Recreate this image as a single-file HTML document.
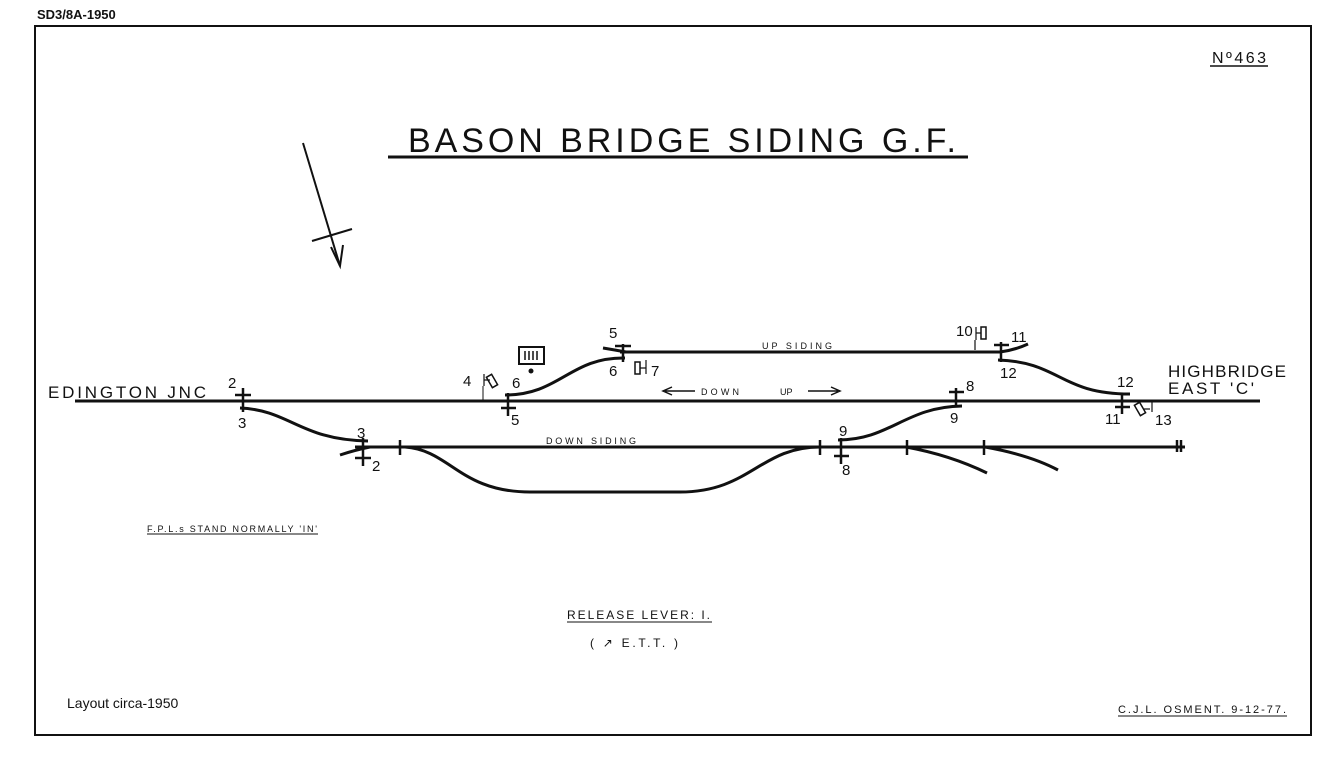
<!DOCTYPE html>
<html><head><style>
body{margin:0;background:#fff;}
svg{display:block;}
text{font-family:"Liberation Sans",sans-serif;fill:#111;}
</style></head><body>
<svg width="1334" height="760" viewBox="0 0 1334 760" xmlns="http://www.w3.org/2000/svg">
<rect width="1334" height="760" fill="#fff"/>
<g stroke="#111" fill="none">
<path d="M35 26 H1311 V735 H35 Z" stroke-width="2"/>
<line x1="388" y1="157" x2="968" y2="157" stroke-width="3"/>
<line x1="1210" y1="66" x2="1268" y2="66" stroke-width="1.5"/>
<line x1="303" y1="143" x2="340" y2="266" stroke-width="2"/>
<line x1="312" y1="241" x2="352" y2="229" stroke-width="2"/>
<path d="M331 247 L340 266 L343 245" stroke-width="2"/>
<line x1="75" y1="401" x2="1260" y2="401" stroke-width="3"/>
<line x1="620" y1="352" x2="1000" y2="352" stroke-width="3"/>
<path d="M603 348 Q615 350 626 352" stroke-width="3"/>
<path d="M1000 352 Q1015 350 1028 344" stroke-width="3"/>
<path d="M505 395 C560 395 570 357 625 358" stroke-width="3"/>
<path d="M998 360 C1060 362 1060 394 1130 394" stroke-width="3"/>
<line x1="355" y1="447" x2="1185" y2="447" stroke-width="3"/>
<path d="M340 455 Q355 450 370 447" stroke-width="3"/>
<path d="M240 408 C290 410 300 440 368 441" stroke-width="3"/>
<path d="M405 447 C450 450 460 492 530 492 H680 C750 492 760 447 820 447" stroke-width="3"/>
<path d="M838 440 C890 440 905 407 962 406" stroke-width="3"/>
<path d="M906 447 Q950 455 987 473" stroke-width="3"/>
<path d="M985 447 Q1030 455 1058 470" stroke-width="3"/>
<g stroke-width="2.5">
<line x1="243" y1="388" x2="243" y2="412"/><line x1="235" y1="395" x2="251" y2="395"/>
<line x1="363" y1="438" x2="363" y2="466"/><line x1="355" y1="458" x2="371" y2="458"/>
<line x1="400" y1="440" x2="400" y2="455"/>
<line x1="508" y1="393" x2="508" y2="416"/><line x1="501" y1="408" x2="516" y2="408"/>
<line x1="623" y1="344" x2="623" y2="362"/><line x1="615" y1="346" x2="631" y2="346"/>
<line x1="820" y1="440" x2="820" y2="455"/>
<line x1="841" y1="438" x2="841" y2="464"/><line x1="834" y1="456" x2="849" y2="456"/>
<line x1="907" y1="440" x2="907" y2="455"/><line x1="984" y1="440" x2="984" y2="455"/>
<line x1="956" y1="388" x2="956" y2="407"/><line x1="949" y1="392" x2="964" y2="392"/>
<line x1="1001" y1="342" x2="1001" y2="362"/><line x1="994" y1="345" x2="1009" y2="345"/>
<line x1="1122" y1="395" x2="1122" y2="414"/><line x1="1115" y1="407" x2="1130" y2="407"/>
<line x1="1177" y1="440" x2="1177" y2="452"/><line x1="1181" y1="440" x2="1181" y2="452"/>
</g>
<path d="M665 391 H695 M672 387 L663 391 L672 395" stroke-width="1.5"/>
<path d="M808 391 H838 M831 387 L840 391 L831 395" stroke-width="1.5"/>
<rect x="519" y="347" width="25" height="17" stroke-width="2"/>
<path d="M525 351 V360 M529 351 V360 M533 351 V360 M537 351 V360" stroke-width="1.5"/>
<rect x="635" y="362" width="5" height="12" stroke-width="1.5"/>
<path d="M640 368 H646 M646 360 V374" stroke-width="1.2"/>
<path d="M484 380 H490 M484 374 V386" stroke-width="1.2"/>
<rect x="489" y="375" width="6" height="12" stroke-width="1.5" transform="rotate(-30 492 381)"/>
<path d="M483 386 V400" stroke-width="1"/>
<rect x="981" y="327" width="5" height="12" stroke-width="1.5"/>
<path d="M976 333 H981 M976 327 V340 M975 340 V350" stroke-width="1.2"/>
<rect x="1137" y="403" width="6" height="12" stroke-width="1.5" transform="rotate(-30 1140 409)"/>
<path d="M1144 409 H1150 M1152 400 V412" stroke-width="1.2"/>
<line x1="147" y1="534" x2="318" y2="534" stroke-width="1"/>
<line x1="567" y1="622" x2="712" y2="622" stroke-width="1"/>
<line x1="1118" y1="716" x2="1287" y2="716" stroke-width="1"/>
</g>
<circle cx="531" cy="371" r="2.5" fill="#111"/>
<text x="37" y="19" font-size="13" font-weight="bold">SD3/8A-1950</text>
<text x="1212" y="63" font-size="16" textLength="54">Nº463</text>
<text x="408" y="152" font-size="34" textLength="548">BASON  BRIDGE  SIDING  G.F.</text>
<text x="48" y="398" font-size="17" textLength="158">EDINGTON  JNC</text>
<text x="1168" y="377" font-size="17" textLength="118">HIGHBRIDGE</text>
<text x="1168" y="394" font-size="17" textLength="86">EAST 'C'</text>
<g font-size="15">
<text x="228" y="388">2</text><text x="238" y="428">3</text>
<text x="357" y="438">3</text><text x="372" y="471">2</text>
<text x="463" y="386">4</text><text x="512" y="388">6</text><text x="511" y="425">5</text>
<text x="609" y="338">5</text><text x="609" y="376">6</text><text x="651" y="376">7</text>
<text x="839" y="436">9</text><text x="842" y="475">8</text>
<text x="966" y="391">8</text><text x="950" y="423">9</text>
<text x="956" y="336">10</text><text x="1011" y="342">11</text><text x="1000" y="378">12</text>
<text x="1117" y="387">12</text><text x="1105" y="424">11</text><text x="1155" y="425">13</text>
</g>
<g font-size="9">
<text x="762" y="349" textLength="70">UP   SIDING</text>
<text x="701" y="395" textLength="38">DOWN</text><text x="780" y="395">UP</text>
<text x="546" y="444" textLength="90">DOWN      SIDING</text>
<text x="147" y="532" textLength="170">F.P.L.s STAND NORMALLY 'IN'</text>
</g>
<text x="567" y="619" font-size="12" textLength="143">RELEASE LEVER: I.</text>
<text x="590" y="647" font-size="12" textLength="88">( ↗ E.T.T. )</text>
<text x="1118" y="713" font-size="11" textLength="168">C.J.L. OSMENT. 9-12-77.</text>
<text x="67" y="708" font-size="14">Layout circa-1950</text>
</svg>
</body></html>
